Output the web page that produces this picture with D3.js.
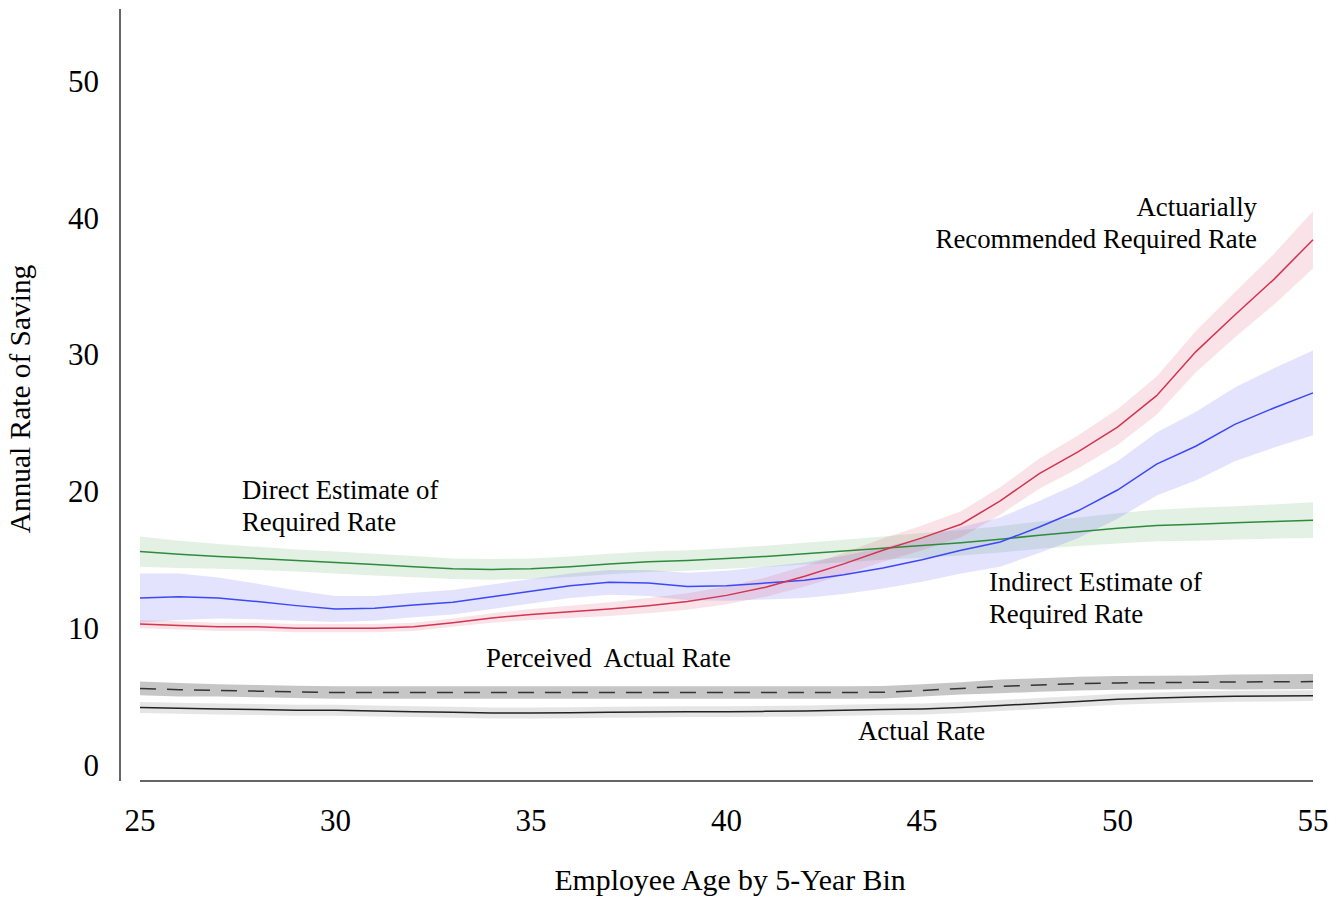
<!DOCTYPE html>
<html>
<head>
<meta charset="utf-8">
<script src="https://cdn.jsdelivr.net/npm/d3@7"></script>
<style>
  body { margin: 0; background: #fff; }
  text { font-family: "Liberation Serif", "Times New Roman", Times, serif; fill: #000; }
</style>
</head>
<body>
<div id="chart-area"></div>
<script>
var ages = [25, 26, 27, 28, 29, 30, 31, 32, 33, 34, 35, 36, 37, 38, 39, 40,
            41, 42, 43, 44, 45, 46, 47, 48, 49, 50, 51, 52, 53, 54, 55];

// Actuarially recommended required rate
var actuarial = [10.3, 10.2, 10.1, 10.1, 10.0, 10.0, 10.0, 10.1, 10.4, 10.75, 11.0, 11.2, 11.4, 11.65, 11.95, 12.4,
                 13.0, 13.8, 14.7, 15.7, 16.6, 17.6, 19.3, 21.3, 22.9, 24.7, 27.0, 30.2, 32.9, 35.5, 38.4];
var actuarialErr = [0.3, 0.3, 0.3, 0.3, 0.3, 0.3, 0.3, 0.3, 0.3, 0.35, 0.4, 0.45, 0.5, 0.55, 0.6, 0.65,
                    0.7, 0.75, 0.8, 0.85, 0.9, 0.95, 1.0, 1.1, 1.2, 1.3, 1.4, 1.5, 1.65, 1.85, 2.1];

// Indirect estimate of required rate
var indirect = [12.2, 12.3, 12.2, 11.95, 11.65, 11.4, 11.45, 11.7, 11.9, 12.3, 12.7, 13.1, 13.35, 13.3, 13.05, 13.1,
                13.3, 13.5, 13.9, 14.4, 15.0, 15.7, 16.3, 17.4, 18.6, 20.1, 22.0, 23.3, 24.9, 26.1, 27.2];
var indirectErr = [1.8, 1.7, 1.5, 1.3, 1.1, 0.95, 0.9, 0.9, 0.9, 0.9, 0.9, 0.9, 0.9, 0.95, 1.0, 1.1,
                   1.2, 1.3, 1.4, 1.5, 1.6, 1.7, 1.8, 1.9, 2.0, 2.1, 2.3, 2.5, 2.7, 2.9, 3.1];

// Direct estimate of required rate
var direct = [15.6, 15.4, 15.25, 15.1, 14.95, 14.8, 14.65, 14.5, 14.35, 14.3, 14.35, 14.5, 14.7, 14.85, 14.95, 15.1,
              15.25, 15.45, 15.65, 15.85, 16.05, 16.25, 16.5, 16.8, 17.05, 17.3, 17.5, 17.6, 17.7, 17.8, 17.9];
var directErr = [1.1, 1.0, 0.9, 0.85, 0.8, 0.8, 0.8, 0.78, 0.75, 0.75, 0.75, 0.75, 0.75, 0.75, 0.75, 0.75,
                 0.78, 0.8, 0.82, 0.85, 0.9, 0.93, 0.96, 1.0, 1.05, 1.1, 1.15, 1.2, 1.22, 1.25, 1.3];

// Perceived actual rate
var perceived = [5.6, 5.5, 5.45, 5.4, 5.35, 5.3, 5.3, 5.3, 5.3, 5.3, 5.3, 5.3, 5.3, 5.3, 5.3, 5.3,
                 5.3, 5.3, 5.3, 5.32, 5.45, 5.6, 5.75, 5.85, 5.95, 6.0, 6.02, 6.05, 6.07, 6.08, 6.1];
var perceivedErr = [0.5, 0.5, 0.45, 0.45, 0.45, 0.45, 0.45, 0.45, 0.45, 0.45, 0.45, 0.45, 0.45, 0.45, 0.45, 0.45,
                    0.45, 0.45, 0.45, 0.45, 0.45, 0.45, 0.5, 0.5, 0.5, 0.5, 0.5, 0.5, 0.55, 0.55, 0.55];

// Actual rate
var actual = [4.2, 4.15, 4.1, 4.05, 4.0, 4.0, 3.95, 3.9, 3.85, 3.8, 3.8, 3.82, 3.85, 3.87, 3.9, 3.9,
              3.92, 3.95, 4.0, 4.05, 4.1, 4.2, 4.35, 4.5, 4.65, 4.8, 4.9, 4.97, 5.02, 5.05, 5.07];
var actualErr = [0.4, 0.4, 0.4, 0.4, 0.4, 0.4, 0.4, 0.4, 0.4, 0.4, 0.4, 0.4, 0.4, 0.4, 0.4, 0.4,
                 0.4, 0.4, 0.4, 0.4, 0.4, 0.4, 0.4, 0.4, 0.4, 0.4, 0.4, 0.4, 0.4, 0.4, 0.4];

var xTicks = [25, 30, 35, 40, 45, 50, 55];
var yTicks = [0, 10, 20, 30, 40, 50];

var series = [
    {name: "direct", values: direct, err: directErr, line: "#2e8b3c", band: "rgb(40,140,50)", bandOpacity: 0.13, dash: null},
    {name: "indirect", values: indirect, err: indirectErr, line: "#3b48f5", band: "rgb(70,70,240)", bandOpacity: 0.15, dash: null},
    {name: "actuarial", values: actuarial, err: actuarialErr, line: "#d3344f", band: "rgb(215,60,90)", bandOpacity: 0.14, dash: null},
    {name: "perceived", values: perceived, err: perceivedErr, line: "#333", band: "rgb(120,120,120)", bandOpacity: 0.42, dash: "16,11"},
    {name: "actual", values: actual, err: actualErr, line: "#222", band: "rgb(150,150,150)", bandOpacity: 0.25, dash: null}
];

var labels = [
    {lines: ["Actuarially", "Recommended Required Rate"], x: 1257, y: 216, anchor: "end"},
    {lines: ["Direct Estimate of", "Required Rate"], x: 242, y: 499, anchor: "start"},
    {lines: ["Indirect Estimate of", "Required Rate"], x: 989, y: 591, anchor: "start"},
    {lines: ["Perceived  Actual Rate"], x: 486, y: 667, anchor: "start"},
    {lines: ["Actual Rate"], x: 858, y: 740, anchor: "start"}
];

var width = 1341, height = 900;

var svg = d3.select("#chart-area").append("svg")
    .attr("width", width)
    .attr("height", height)

var x = d3.scaleLinear().domain([25, 55]).range([140, 1313]);
var y = d3.scaleLinear().domain([0, 50]).range([765, 81]);

// axis lines
svg.append("line")
    .attr("x1", 120).attr("x2", 120)
    .attr("y1", 9).attr("y2", 781)
    .attr("stroke", "#333").attr("stroke-width", 1.5);
svg.append("line")
    .attr("x1", x(25)).attr("x2", x(55))
    .attr("y1", 781).attr("y2", 781)
    .attr("stroke", "#333").attr("stroke-width", 1.5);

// tick labels
svg.selectAll(".ytick").data(yTicks).enter().append("text")
    .attr("class", "ytick")
    .attr("x", 99)
    .attr("y", (d) => y(d))
    .attr("dy", "0.35em")
    .attr("text-anchor", "end")
    .style("font-size", "31px")
    .text((d) => d);

svg.selectAll(".xtick").data(xTicks).enter().append("text")
    .attr("class", "xtick")
    .attr("x", (d) => x(d))
    .attr("y", 831)
    .attr("text-anchor", "middle")
    .style("font-size", "31px")
    .text((d) => d);

// axis titles
svg.append("text")
    .attr("x", 730)
    .attr("y", 890)
    .attr("text-anchor", "middle")
    .style("font-size", "29.8px")
    .text("Employee Age by 5-Year Bin");

svg.append("text")
    .attr("transform", "translate(30, 399) rotate(-90)")
    .attr("text-anchor", "middle")
    .style("font-size", "29.4px")
    .text("Annual Rate of Saving");

var area = d3.area()
    .x((d) => x(d.age))
    .y0((d) => y(d.v - d.e))
    .y1((d) => y(d.v + d.e));

var line = d3.line()
    .x((d) => x(d.age))
    .y((d) => y(d.v));

var plot = svg.append("g");

series.forEach((s) => {
    var pts = ages.map((a, i) => ({age: a, v: s.values[i], e: s.err[i]}));
    plot.append("path")
        .attr("d", area(pts))
        .attr("fill", s.band)
        .attr("fill-opacity", s.bandOpacity)
        .attr("stroke", "none");
    s.pts = pts;
});

series.forEach((s) => {
    plot.append("path")
        .attr("d", line(s.pts))
        .attr("fill", "none")
        .attr("stroke", s.line)
        .attr("stroke-width", 1.5)
        .attr("stroke-dasharray", s.dash);
});

// series labels
labels.forEach((l) => {
    var t = svg.append("text")
        .attr("text-anchor", l.anchor)
        .style("font-size", "26.8px")
        .style("white-space", "pre");
    l.lines.forEach((ln, i) => {
        t.append("tspan")
            .attr("x", l.x)
            .attr("y", l.y + i * 31.5)
            .text(ln);
    });
});
</script>
</body>
</html>
